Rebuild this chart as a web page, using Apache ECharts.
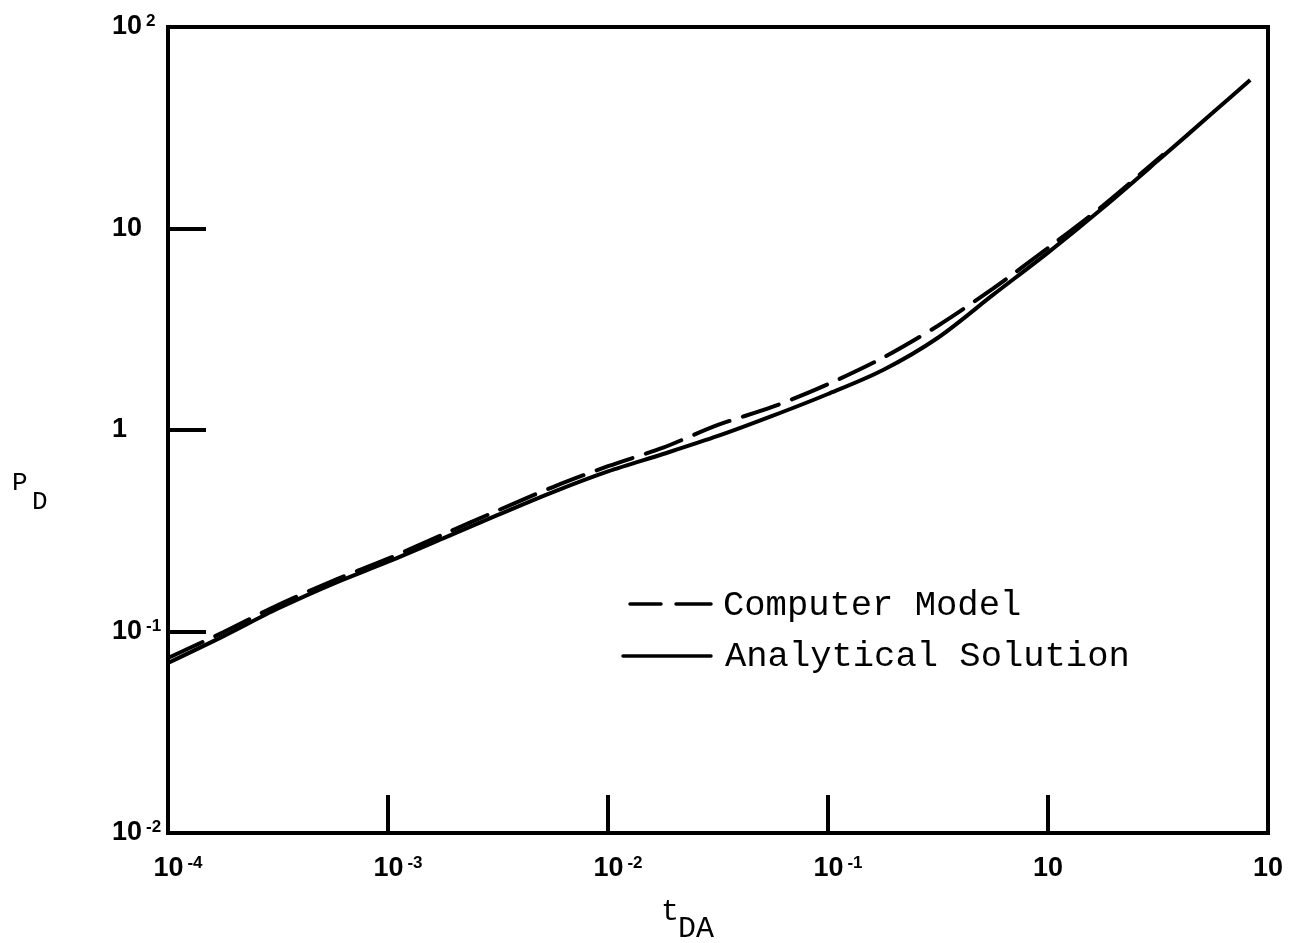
<!DOCTYPE html>
<html>
<head>
<meta charset="utf-8">
<script src="https://cdn.jsdelivr.net/npm/echarts@6/dist/echarts.min.js"></script>
<style>
  html, body { margin: 0; padding: 0; background: #fff; }
  #chart { width: 1289px; height: 943px; }
</style>
</head>
<body>
<div id="chart"></div>
<script>
// Dimensionless time t_DA and dimensionless pressure P_D
const tdaAnalytical = [0.0001, 0.000178, 0.000316, 0.000562, 0.001, 0.00178, 0.00316, 0.00562,
  0.01, 0.0178, 0.0316, 0.0562, 0.1, 0.178, 0.316, 0.562, 1, 1.78, 3.16, 5.62, 8.3];
const pdAnalytical = [0.0698, 0.0946, 0.130, 0.1725, 0.222, 0.290, 0.379, 0.492,
  0.623, 0.760, 0.934, 1.178, 1.509, 1.985, 2.87, 4.68, 7.59, 12.68, 21.73, 37.6, 54.6];

const tdaModel = [0.0001, 0.000178, 0.000316, 0.000562, 0.001, 0.00178, 0.00316, 0.00562,
  0.01, 0.0178, 0.0316, 0.0562, 0.1, 0.178, 0.316, 0.562, 1, 1.78, 3.16, 3.33];
const pdModel = [0.0739, 0.0991, 0.1354, 0.1786, 0.2298, 0.303, 0.399, 0.521,
  0.661, 0.8175, 1.059, 1.305, 1.689, 2.285, 3.293, 5.03, 8.01, 13.0, 22.1, 23.2];

// Tick labels: base text and superscript, one entry per decade
const xTickBase = ['10', '10', '10', '10', '10', '10'];
const xTickExp  = ['-4', '-3', '-2', '-1', '', ''];
const yTickBase = ['10', '10', '1', '10', '10'];
const yTickExp  = ['-2', '-1', '', '', '2'];

const seriesNames = ['Computer Model', 'Analytical Solution'];

const toPairs = (xs, ys) => xs.map((x, i) => [x, ys[i]]);

const chart = echarts.init(document.getElementById('chart'), null, { renderer: 'canvas' });

const labelRich = {
  sp: { width: 20, fontSize: 17 },
  b: { fontFamily: 'Liberation Sans', fontWeight: 'bold', fontSize: 27, lineHeight: 28, color: '#000' },
  s: { fontFamily: 'Liberation Sans', fontWeight: 'bold', fontSize: 17, lineHeight: 12, verticalAlign: 'top',
       color: '#000', padding: [0, 0, 0, 4] }
};

const monoText = (text, x, y, size) => ({
  type: 'text', left: x, top: y,
  style: { text: text, font: size + 'px "Liberation Mono"', fill: '#000' }
});
const legendLine = (x1, x2, y) => ({
  type: 'line',
  shape: { x1: x1, y1: y, x2: x2, y2: y },
  style: { stroke: '#000', lineWidth: 3.5, lineCap: 'round' }
});

const option = {
  backgroundColor: '#fff',
  animation: false,
  grid: {
    left: 168, right: 21, top: 27, bottom: 110,
    show: true, borderColor: '#000', borderWidth: 4, containLabel: false
  },
  xAxis: {
    type: 'log', logBase: 10, min: 0.0001, max: 10,
    axisLine: { show: true, lineStyle: { color: '#000', width: 4 } },
    axisTick: { show: true, inside: true, length: 38, lineStyle: { color: '#000', width: 4 } },
    minorTick: { show: false },
    splitLine: { show: false },
    axisLabel: {
      margin: 22,
      showMinLabel: true, showMaxLabel: true,
      formatter: function (v) {
        const i = Math.round(Math.log10(v)) + 4;
        const e = xTickExp[i];
        return e ? '{sp| }{b|' + xTickBase[i] + '}{s|' + e + '}' : '{b|' + xTickBase[i] + '}';
      },
      rich: labelRich
    }
  },
  yAxis: {
    type: 'log', logBase: 10, min: 0.01, max: 100,
    axisLine: { show: true, lineStyle: { color: '#000', width: 4 } },
    axisTick: { show: true, inside: true, length: 38, lineStyle: { color: '#000', width: 4 } },
    minorTick: { show: false },
    splitLine: { show: false },
    axisLabel: {
      margin: 56, align: 'left',
      showMinLabel: true, showMaxLabel: true,
      formatter: function (v) {
        const i = Math.round(Math.log10(v)) + 2;
        const e = yTickExp[i];
        return e ? '{b|' + yTickBase[i] + '}{s|' + e + '}' : '{b|' + yTickBase[i] + '}';
      },
      rich: labelRich
    }
  },
  graphic: [
    // axis titles
    monoText('P', 12, 470, 26),
    monoText('D', 32, 489, 26),
    monoText('t', 661, 897, 30),
    monoText('DA', 678, 914, 30),
    // key
    legendLine(630, 661, 604),
    legendLine(676, 711, 604),
    legendLine(623, 711, 656),
    monoText(seriesNames[0], 723, 588, 35.5),
    monoText(seriesNames[1], 725, 639, 35.5)
  ],
  series: [
    {
      name: seriesNames[0], type: 'line', symbol: 'none', smooth: 0.3,
      data: toPairs(tdaModel, pdModel),
      lineStyle: { color: '#000', width: 4, type: [38, 14], cap: 'round' },
      itemStyle: { color: '#000' }
    },
    {
      name: seriesNames[1], type: 'line', symbol: 'none', smooth: 0.3,
      data: toPairs(tdaAnalytical, pdAnalytical),
      lineStyle: { color: '#000', width: 4, type: 'solid' },
      itemStyle: { color: '#000' }
    }
  ]
};

chart.setOption(option);
</script>
</body>
</html>
